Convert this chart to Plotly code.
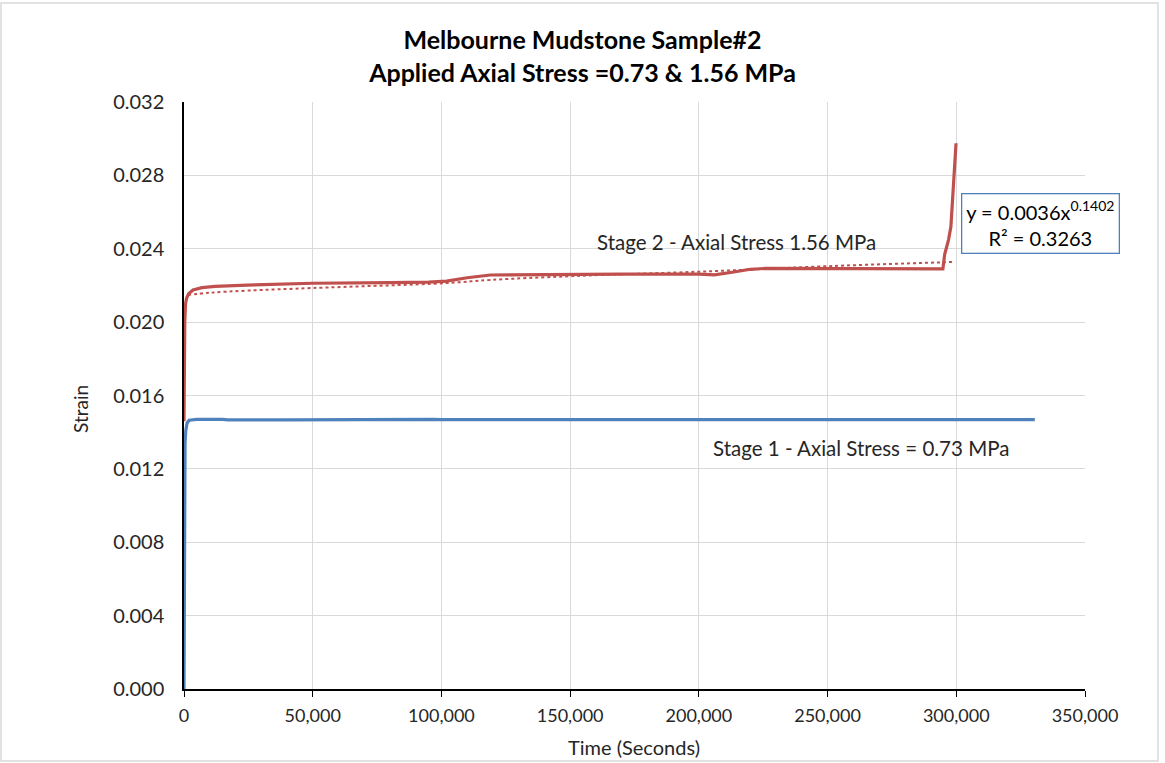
import plotly.graph_objects as go

# Stage 1 creep record (axial stress 0.73 MPa)
stage1_time = [0, 40, 90, 150, 250, 400, 700, 1200, 2000, 5000, 15000, 17000,
               40000, 73000, 80000, 97000, 100000, 130000, 160000, 200000,
               220000, 250000, 280000, 300000, 330500]
stage1_strain = [0.0000, 0.0030, 0.0075, 0.0110, 0.0128, 0.0134, 0.0141, 0.0145,
                 0.01465, 0.01470, 0.01470, 0.01467, 0.01467, 0.01468, 0.01472,
                 0.01470, 0.01468, 0.01468, 0.01468, 0.01467, 0.01467, 0.01467,
                 0.01467, 0.01467, 0.01468]

# Stage 2 creep record (axial stress 1.56 MPa)
stage2_time = [0, 60, 150, 300, 600, 1000, 1800, 3500, 7000, 12000, 24500,
               50000, 80000, 95000, 102000, 110000, 119000, 140000, 170000,
               200000, 206000, 213000, 220000, 226000, 250000, 275000, 294800,
               295500, 297000, 297900, 298700, 299300, 299700, 299900]
stage2_strain = [0.0146, 0.0165, 0.0185, 0.0200, 0.0210, 0.0213, 0.02155, 0.02175,
                 0.02188, 0.02195, 0.02202, 0.02212, 0.02215, 0.02218, 0.02224,
                 0.02242, 0.02257, 0.02260, 0.02262, 0.02262, 0.02258, 0.02272,
                 0.02288, 0.02293, 0.02293, 0.02292, 0.02290, 0.02370, 0.02450,
                 0.02520, 0.02680, 0.02830, 0.02920, 0.02975]

# Power trendline of stage 2 as displayed
trend_time = [1500, 10000, 25000, 50000, 102000, 119000, 151000, 200000, 252000, 299000]
trend_strain = [0.02148, 0.02160, 0.02172, 0.02186, 0.02213, 0.02230, 0.02251,
                0.02275, 0.02306, 0.02328]

x_ticks = [0, 50000, 100000, 150000, 200000, 250000, 300000, 350000]
y_ticks = [0.000, 0.004, 0.008, 0.012, 0.016, 0.020, 0.024, 0.028, 0.032]

RED = "#c0504d"
BLUE = "#4f81bd"
FONT = "Lato"
TEXT = "#262626"

fig = go.Figure()
fig.add_trace(go.Scatter(x=stage1_time, y=stage1_strain, mode="lines",
                         line=dict(color=BLUE, width=3.2), name="Stage 1"))
fig.add_trace(go.Scatter(x=stage2_time, y=stage2_strain, mode="lines",
                         line=dict(color=RED, width=3.2), name="Stage 2"))
fig.add_trace(go.Scatter(x=trend_time, y=trend_strain, mode="lines",
                         line=dict(color=RED, width=2, dash="dot", shape="spline"),
                         name="Power (Stage 2)"))

W, H = 1165, 763
ML, MR, MT, MB = 184, 80, 102, 74
pw, ph = W - ML - MR, H - MT - MB


def px(x):
    return (x - ML) / pw


def py(y):
    return (H - MB - y) / ph


fig.update_layout(
    width=W, height=H,
    margin=dict(l=ML, r=MR, t=MT, b=MB),
    paper_bgcolor="white", plot_bgcolor="white",
    showlegend=False,
    font=dict(family=FONT, color=TEXT, size=18),
    title=dict(text="<b>Melbourne Mudstone Sample#2<br>Applied Axial Stress =0.73 &amp; 1.56 MPa</b>",
               x=0.5, xref="container", xanchor="center",
               y=1 - 49 / H, yanchor="middle",
               font=dict(family=FONT, size=25, color="#000000")),
    xaxis=dict(range=[0, 350000], tickvals=x_ticks, tickformat=",",
               showgrid=True, gridcolor="#d9d9d9", gridwidth=1,
               showline=True, linecolor="#000000", linewidth=1.5,
               ticks="outside", ticklen=6, tickcolor="#000000",
               ticklabelstandoff=4,
               zeroline=False, tickfont=dict(size=18, color=TEXT)),
    yaxis=dict(range=[0, 0.032], tickvals=y_ticks, tickformat=".3f",
               showgrid=True, gridcolor="#d9d9d9", gridwidth=1,
               showline=True, linecolor="#000000", linewidth=1.5,
               ticks="", ticklabelstandoff=14,
               zeroline=False, tickfont=dict(size=20, color=TEXT)),
)

# chart area border
fig.add_shape(type="rect", xref="paper", yref="paper",
              x0=px(1), x1=px(1158), y0=py(3), y1=py(761),
              line=dict(color="#d9d9d9", width=1.5), layer="below")


def label(text, x, y, size, **kw):
    fig.add_annotation(text=text, x=px(x), y=py(y), xref="paper", yref="paper",
                       xanchor="center", yanchor="middle", showarrow=False,
                       font=dict(family=FONT, size=size, color=kw.pop("color", TEXT)),
                       **kw)


# axis titles
label("Time (Seconds)", 634, 747, 20)
label("Strain", 80, 409, 19, textangle=-90)

# series labels
label("Stage 2 - Axial Stress 1.56 MPa", 736, 242, 20.5)
label("Stage 1 - Axial Stress = 0.73 MPa", 861, 448, 20.5)

# trendline equation box
label("y = 0.0036x<sup>0.1402</sup><br>R² = 0.3263", 1040, 223, 20,
      color="#000000", align="center", bordercolor=BLUE, borderwidth=1.3,
      borderpad=3, bgcolor="white", width=150)

fig.write_html("out.html")
